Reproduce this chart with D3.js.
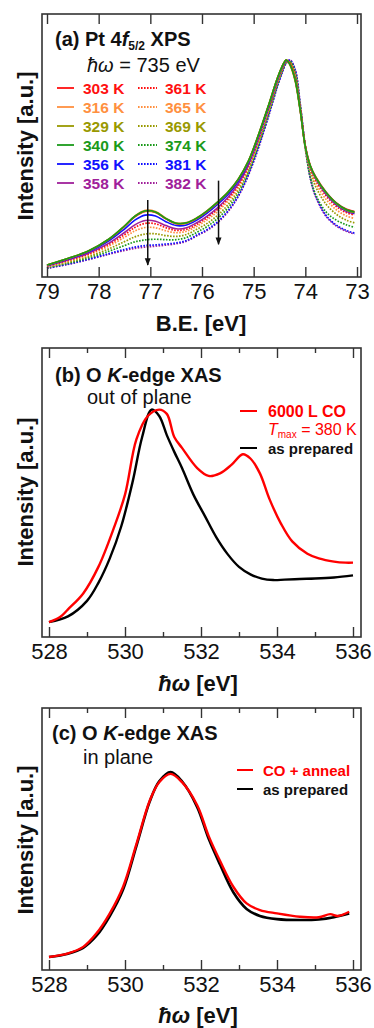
<!DOCTYPE html>
<html>
<head>
<meta charset="utf-8">
<script src="https://cdn.jsdelivr.net/npm/d3@7"></script>
<style>
  body { margin: 0; background: #fff; }
  svg { display: block; }
  text { font-family: "Liberation Sans", Arial, sans-serif; }
</style>
</head>
<body>
<div id="chart"></div>
<script>
// ---------- panel (a): Pt 4f5/2 XPS, binding energy grid (eV) ----------
const beGrid = [79.0, 78.6, 78.2, 77.8, 77.5, 77.3, 77.1, 76.9, 76.7, 76.5, 76.3, 76.1, 75.9, 75.7, 75.5, 75.3,
  75.1, 74.9, 74.7, 74.55, 74.45, 74.37, 74.3, 74.2, 74.1, 74.0, 73.9, 73.8, 73.6, 73.4, 73.2, 73.05]

const xps303 = [.055, .084, .119, .174, .233, .277, .302, .297, .268, .246, .248, .270, .303, .343, .388, .448,
  .534, .659, .799, .91, .97, 1.0, .985, .915, .775, .605, .512, .462, .392, .342, .312, .302]
const xps316 = [.055, .085, .12, .176, .236, .281, .307, .302, .271, .249, .251, .273, .306, .346, .391, .451,
  .536, .661, .80, .91, .97, 1.0, .978, .905, .765, .598, .508, .458, .388, .338, .308, .298]
const xps329 = [.055, .085, .12, .174, .234, .279, .303, .298, .269, .247, .249, .271, .304, .344, .389, .449,
  .534, .659, .80, .91, .97, 1.0, .980, .911, .771, .60, .509, .458, .388, .338, .308, .298]
const xps340 = [.055, .085, .12, .175, .235, .28, .305, .30, .27, .248, .25, .272, .305, .345, .39, .45,
  .535, .66, .80, .91, .97, 1.0, .98, .91, .77, .60, .51, .46, .39, .34, .31, .30]
const xps356 = [.053, .082, .115, .167, .221, .262, .285, .281, .255, .237, .240, .262, .294, .334, .379, .440,
  .527, .653, .794, .905, .966, .998, .981, .913, .772, .60, .507, .456, .385, .335, .305, .295]
const xps358 = [.051, .078, .109, .156, .205, .240, .260, .257, .237, .222, .227, .250, .281, .319, .366, .428,
  .517, .644, .787, .899, .962, .996, .982, .914, .772, .60, .505, .453, .381, .332, .302, .292]
const xps361 = [.050, .076, .106, .151, .195, .228, .247, .245, .227, .215, .220, .243, .274, .312, .359, .422,
  .512, .639, .783, .896, .960, .995, .983, .917, .774, .60, .502, .447, .375, .325, .296, .286]
const xps365 = [.048, .073, .102, .143, .183, .212, .228, .227, .213, .204, .211, .234, .264, .301, .349, .413,
  .505, .632, .777, .892, .956, .993, .986, .925, .779, .60, .493, .434, .358, .310, .281, .270]
const xps369 = [.045, .068, .094, .130, .163, .185, .198, .199, .191, .187, .196, .220, .247, .284, .332, .399,
  .493, .622, .768, .884, .951, .990, .990, .935, .785, .60, .481, .416, .336, .289, .261, .250]
const xps374 = [.043, .063, .088, .119, .145, .162, .171, .174, .172, .172, .182, .206, .233, .269, .318, .386,
  .483, .612, .760, .878, .946, .988, .994, .945, .791, .59, .455, .38, .30, .262, .240, .229]
const xps381 = [.041, .059, .082, .108, .127, .138, .145, .148, .152, .157, .168, .193, .219, .254, .304, .373,
  .473, .602, .752, .872, .942, .986, .999, .958, .799, .60, .452, .374, .284, .239, .214, .202]
const xps382 = [.04, .058, .08, .105, .122, .132, .138, .142, .147, .153, .165, .19, .215, .25, .30, .37,
  .47, .60, .75, .87, .94, .985, 1.0, .96, .80, .60, .45, .37, .28, .235, .21, .198]

const tempsSolid = ['303 K', '316 K', '329 K', '340 K', '356 K', '358 K']
const tempsDotted = ['361 K', '365 K', '369 K', '374 K', '381 K', '382 K']
const tempColors = ['#ff1010', '#ff9040', '#999900', '#1a9a1a', '#1010ff', '#a0209a']
const solidSeries = [xps303, xps316, xps329, xps340, xps356, xps358]
const dottedSeries = [xps361, xps365, xps369, xps374, xps381, xps382]

const xpsTicks = [79, 78, 77, 76, 75, 74, 73]
// arrows: energy, start and end intensity
const arrowE = [77.05, 75.68]
const arrowFrom = [0.355, 0.444]
const arrowTo = [0.055, 0.151]

// ---------- panel (b): O K-edge XAS, out of plane ----------
const bBlackE = [528.0, 528.5, 529.0, 529.3, 529.6, 529.9, 530.2, 530.45, 530.7, 530.9, 531.1, 531.3, 531.5,
  531.8, 532.1, 532.4, 532.7, 533.0, 533.3, 533.6, 533.9, 534.2, 534.6, 535.0, 535.5, 536.0]
const bBlackI = [0.0, 0.027, 0.1, 0.185, 0.3, 0.45, 0.66, 0.87, 1.0, 0.97, 0.88, 0.8, 0.725,
  0.6, 0.5, 0.4, 0.32, 0.26, 0.225, 0.205, 0.198, 0.2, 0.203, 0.205, 0.21, 0.22]
const bRedE = [528.0, 528.3, 528.5, 528.9, 529.3, 529.7, 530.0, 530.3, 530.6, 530.9, 531.1, 531.3, 531.5,
  531.9, 532.2, 532.5, 532.8, 533.1, 533.3, 533.55, 533.8, 534.1, 534.4, 534.8, 535.1, 535.5, 535.8, 536.0]
const bRedI = [0.0, 0.025, 0.06, 0.135, 0.26, 0.44, 0.6, 0.86, 0.97, 1.0, 0.98, 0.87, 0.82,
  0.725, 0.688, 0.70, 0.74, 0.79, 0.77, 0.70, 0.58, 0.465, 0.38, 0.322, 0.30, 0.285, 0.28, 0.28]

// ---------- panel (c): O K-edge XAS, in plane ----------
const cRedE = [528.0, 528.5, 528.9, 529.25, 529.6, 529.95, 530.3, 530.65, 530.9, 531.2, 531.5, 531.9, 532.2,
  532.5, 532.85, 533.2, 533.55, 534.0, 534.6, 535.1, 535.4, 535.6, 535.9]
const cRedI = [0.0, 0.02, 0.055, 0.128, 0.236, 0.38, 0.61, 0.845, 0.945, 0.99, 0.945, 0.82, 0.655,
  0.52, 0.38, 0.29, 0.254, 0.236, 0.218, 0.215, 0.232, 0.222, 0.245]
const cBlackE = [528.0, 528.5, 528.9, 529.25, 529.6, 529.95, 530.3, 530.65, 530.9, 531.2, 531.5, 531.9, 532.2,
  532.5, 532.85, 533.2, 533.55, 534.0, 534.6, 535.1, 535.5, 535.9]
const cBlackI = [0.0, 0.018, 0.05, 0.115, 0.222, 0.365, 0.6, 0.84, 0.95, 1.0, 0.95, 0.81, 0.64,
  0.5, 0.35, 0.26, 0.222, 0.205, 0.2, 0.203, 0.215, 0.235]

const xasMajor = [528, 530, 532, 534, 536]
const xasMinor = [529, 531, 533, 535]

const width = 374
const height = 1028
const frameColor = '#333'

const svg = d3.select('#chart').append('svg')
  .attr('width', width)
  .attr('height', height)

const defs = svg.append('defs')
defs.append('marker')
  .attr('id', 'arrowhead')
  .attr('viewBox', '0 0 10 10')
  .attr('refX', 9).attr('refY', 5)
  .attr('markerWidth', 5).attr('markerHeight', 8)
  .attr('orient', 'auto')
  .append('path')
  .attr('d', 'M0,1 L10,5 L0,9 Z')
  .attr('fill', '#111')

// shared frame + tick drawing
const drawFrame = (g, box, x, majors, minors) => {
  const bottomAxis = d3.axisBottom(x).tickValues(majors).tickSize(-10).tickPadding(6)
    .tickFormat(d3.format('d'))
  const topAxis = d3.axisTop(x).tickValues(majors).tickSize(-10).tickFormat('')
  const styleAxis = (a) => {
    a.select('.domain').remove()
    a.selectAll('.tick line').attr('stroke', frameColor).attr('stroke-width', 1.4)
    a.selectAll('.tick text')
      .attr('fill', '#111')
      .style('font-size', '22px')
      .style('font-family', '"Liberation Sans", Arial, sans-serif')
  }
  g.append('g').attr('transform', `translate(0,${box.bottom})`).call(bottomAxis).call(styleAxis)
  g.append('g').attr('transform', `translate(0,${box.top})`).call(topAxis).call(styleAxis)
  if (minors) {
    g.append('g').attr('transform', `translate(0,${box.bottom})`)
      .call(d3.axisBottom(x).tickValues(minors).tickSize(-5).tickFormat('')).call(styleAxis)
    g.append('g').attr('transform', `translate(0,${box.top})`)
      .call(d3.axisTop(x).tickValues(minors).tickSize(-5).tickFormat('')).call(styleAxis)
  }
  g.append('rect')
    .attr('x', box.left).attr('y', box.top)
    .attr('width', box.right - box.left).attr('height', box.bottom - box.top)
    .attr('fill', 'none').attr('stroke', frameColor).attr('stroke-width', 1.6)
}

const yLabel = (cy) => {
  svg.append('text')
    .attr('transform', `translate(33,${cy}) rotate(-90)`)
    .attr('text-anchor', 'middle')
    .style('font-size', '22px')
    .style('font-weight', 'bold')
    .attr('fill', '#111')
    .text('Intensity [a.u.]')
}

const hwLabel = (y) => {
  const t = svg.append('text')
    .attr('x', 198).attr('y', y)
    .attr('text-anchor', 'middle')
    .style('font-size', '22px')
    .style('font-weight', 'bold')
    .attr('fill', '#111')
  t.append('tspan').style('font-style', 'italic').text('\u0127\u03c9')
  t.append('tspan').text(' [eV]')
}

// ================= panel (a) =================
const boxA = { left: 42, right: 361, top: 14, bottom: 277 }
const xA = d3.scaleLinear().domain([79, 73]).range([47, 357])
const yA = d3.scaleLinear().domain([0, 1.212]).range([277, 14])
const gA = svg.append('g')

const lineA = d3.line()
  .x((d, i) => xA(beGrid[i]))
  .y((d) => yA(d))
  .curve(d3.curveCatmullRom.alpha(0.5))

for (let i = dottedSeries.length - 1; i >= 0; i--) {
  gA.append('path')
    .attr('d', lineA(dottedSeries[i]))
    .attr('fill', 'none')
    .attr('stroke', tempColors[i])
    .attr('stroke-width', 1.7)
    .attr('stroke-dasharray', '1.6,1.4')
}
const solidOrder = [5, 4, 0, 1, 2, 3]
solidOrder.forEach((i) => {
  gA.append('path')
    .attr('d', lineA(solidSeries[i]))
    .attr('fill', 'none')
    .attr('stroke', tempColors[i])
    .attr('stroke-width', 1.6)
})

arrowE.forEach((e, i) => {
  gA.append('line')
    .attr('x1', xA(e)).attr('x2', xA(e))
    .attr('y1', yA(arrowFrom[i])).attr('y2', yA(arrowTo[i]))
    .attr('stroke', '#111')
    .attr('stroke-width', 1.5)
    .attr('marker-end', 'url(#arrowhead)')
})

drawFrame(gA, boxA, xA, xpsTicks, null)

// title
const titleA = gA.append('text').attr('x', 55).attr('y', 46)
  .style('font-size', '20px').style('font-weight', 'bold').attr('fill', '#111')
titleA.append('tspan').text('(a) Pt 4')
titleA.append('tspan').style('font-style', 'italic').text('f')
titleA.append('tspan').attr('dy', 4).style('font-size', '12px').text('5/2')
titleA.append('tspan').attr('dy', -4).text(' XPS')

const hvA = gA.append('text').attr('x', 87).attr('y', 72)
  .style('font-size', '20px').attr('fill', '#111')
hvA.append('tspan').style('font-style', 'italic').text('\u0127\u03c9')
hvA.append('tspan').text(' = 735 eV')

// legend
tempsSolid.forEach((lbl, i) => {
  const cy = 88 + i * 19
  gA.append('line').attr('x1', 57).attr('x2', 74).attr('y1', cy).attr('y2', cy)
    .attr('stroke', tempColors[i]).attr('stroke-width', 1.8)
  gA.append('text').attr('x', 83).attr('y', cy + 5.5)
    .style('font-size', '15.5px').style('font-weight', 'bold')
    .attr('fill', tempColors[i]).text(lbl)
  gA.append('line').attr('x1', 138).attr('x2', 157).attr('y1', cy).attr('y2', cy)
    .attr('stroke', tempColors[i]).attr('stroke-width', 1.8).attr('stroke-dasharray', '1.6,1.4')
  gA.append('text').attr('x', 165).attr('y', cy + 5.5)
    .style('font-size', '15.5px').style('font-weight', 'bold')
    .attr('fill', tempColors[i]).text(tempsDotted[i])
})

yLabel(146)
svg.append('text')
  .attr('x', 201).attr('y', 331)
  .attr('text-anchor', 'middle')
  .style('font-size', '22px').style('font-weight', 'bold').attr('fill', '#111')
  .text('B.E. [eV]')

// ================= panel (b) =================
const boxB = { left: 42, right: 361, top: 348, bottom: 637 }
const xB = d3.scaleLinear().domain([528, 536]).range([49, 353])
const yB = d3.scaleLinear().domain([-0.07, 1.29]).range([637, 348])
const gB = svg.append('g')

const xasLine = (xs, ys, xScale, yScale) => d3.line()
  .x((d, i) => xScale(xs[i]))
  .y((d) => yScale(d))
  .curve(d3.curveCatmullRom.alpha(0.5))(ys)

gB.append('path').attr('d', xasLine(bBlackE, bBlackI, xB, yB))
  .attr('fill', 'none').attr('stroke', '#000').attr('stroke-width', 2.4)
gB.append('path').attr('d', xasLine(bRedE, bRedI, xB, yB))
  .attr('fill', 'none').attr('stroke', '#ff0000').attr('stroke-width', 2.4)

drawFrame(gB, boxB, xB, xasMajor, xasMinor)

const titleB = gB.append('text').attr('x', 55).attr('y', 382)
  .style('font-size', '20px').style('font-weight', 'bold').attr('fill', '#111')
titleB.append('tspan').text('(b) O ')
titleB.append('tspan').style('font-style', 'italic').text('K')
titleB.append('tspan').text('-edge XAS')
gB.append('text').attr('x', 87).attr('y', 404)
  .style('font-size', '20px').attr('fill', '#111').text('out of plane')

gB.append('line').attr('x1', 240).attr('x2', 257).attr('y1', 411).attr('y2', 411)
  .attr('stroke', '#ff0000').attr('stroke-width', 2)
gB.append('text').attr('x', 268).attr('y', 416.5)
  .style('font-size', '16px').style('font-weight', 'bold').attr('fill', '#ff0000').text('6000 L CO')
const tmax = gB.append('text').attr('x', 268).attr('y', 435)
  .style('font-size', '16px').attr('fill', '#ff0000')
tmax.append('tspan').style('font-style', 'italic').text('T')
tmax.append('tspan').attr('dy', 3).style('font-size', '10px').text('max')
tmax.append('tspan').attr('dy', -3).text(' = 380 K')
gB.append('line').attr('x1', 240).attr('x2', 257).attr('y1', 448).attr('y2', 448)
  .attr('stroke', '#000').attr('stroke-width', 2)
gB.append('text').attr('x', 268).attr('y', 453.5)
  .style('font-size', '15px').style('font-weight', 'bold').attr('fill', '#111').text('as prepared')

yLabel(492)
hwLabel(691)

// ================= panel (c) =================
const boxC = { left: 42, right: 361, top: 708, bottom: 970 }
const xC = d3.scaleLinear().domain([528, 536]).range([49, 353])
const yC = d3.scaleLinear().domain([-0.07, 1.346]).range([970, 708])
const gC = svg.append('g')

gC.append('path').attr('d', xasLine(cBlackE, cBlackI, xC, yC))
  .attr('fill', 'none').attr('stroke', '#000').attr('stroke-width', 2.6)
gC.append('path').attr('d', xasLine(cRedE, cRedI, xC, yC))
  .attr('fill', 'none').attr('stroke', '#ff0000').attr('stroke-width', 2.4)

drawFrame(gC, boxC, xC, xasMajor, xasMinor)

const titleC = gC.append('text').attr('x', 52).attr('y', 740)
  .style('font-size', '20px').style('font-weight', 'bold').attr('fill', '#111')
titleC.append('tspan').text('(c) O ')
titleC.append('tspan').style('font-style', 'italic').text('K')
titleC.append('tspan').text('-edge XAS')
gC.append('text').attr('x', 83).attr('y', 764)
  .style('font-size', '20px').attr('fill', '#111').text('in plane')

gC.append('line').attr('x1', 237).attr('x2', 253).attr('y1', 770).attr('y2', 770)
  .attr('stroke', '#ff0000').attr('stroke-width', 2)
gC.append('text').attr('x', 263).attr('y', 775.5)
  .style('font-size', '15px').style('font-weight', 'bold').attr('fill', '#ff0000').text('CO + anneal')
gC.append('line').attr('x1', 237).attr('x2', 253).attr('y1', 789).attr('y2', 789)
  .attr('stroke', '#000').attr('stroke-width', 2)
gC.append('text').attr('x', 263).attr('y', 794.5)
  .style('font-size', '15px').style('font-weight', 'bold').attr('fill', '#111').text('as prepared')

yLabel(840)
hwLabel(1023)
</script>
</body>
</html>
